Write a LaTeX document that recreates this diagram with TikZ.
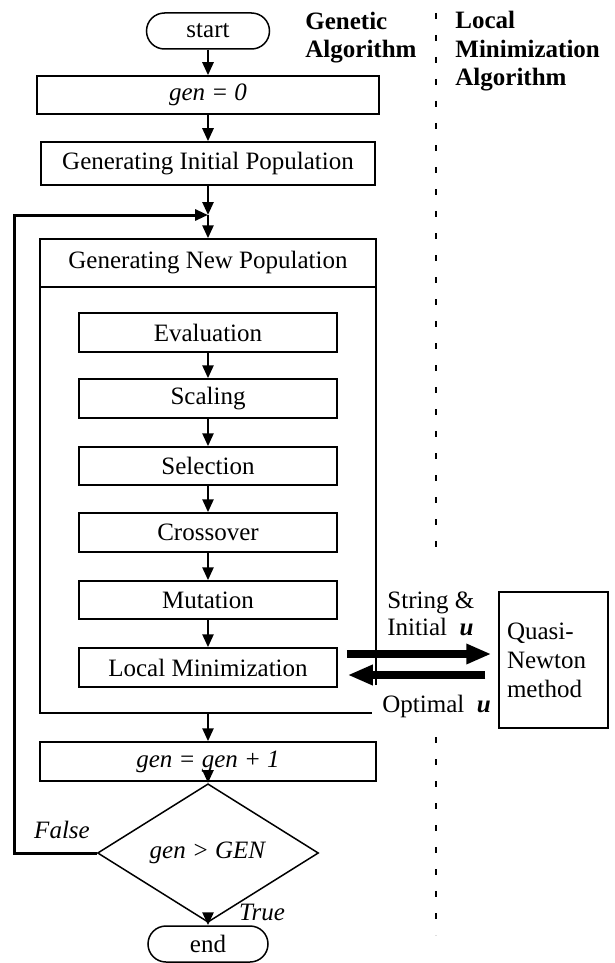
\documentclass[tikz,border=0pt]{standalone}
\usepackage{fontspec}
\setmainfont{Liberation Serif}
\usetikzlibrary{shapes.geometric,arrows.meta}
\begin{document}
\begin{tikzpicture}[x=0.5pt,y=-0.5pt,
  every node/.style={font=\fontsize{12.5}{14}\selectfont},
  box/.style={draw,line width=0.75pt,inner sep=0pt,minimum height=19.5pt},
  term/.style={box,rounded corners=9pt,minimum height=18pt},
  conn/.style={line width=1.3pt,-{Triangle[length=6.5pt,width=5.5pt]}},
  loopline/.style={line width=1.5pt,-{Triangle[length=6.5pt,width=5.5pt]}},
  fat/.style={line width=3.6pt,-{Triangle[length=12.5pt,width=9.5pt]}},
  lbl/.style={inner sep=0pt,align=left},
  sep/.style={line width=0.75pt,dash pattern=on 3pt off 8pt},
]
\useasboundingbox (0,0) rectangle (615,963);

% main column
\node[term,minimum width=61.5pt] (start) at (208,31) {start};
\node[box,minimum width=171pt,minimum height=19pt] (g0) at (208,95) {\textit{gen = 0}};
\node[box,minimum width=167pt,minimum height=21.5pt] (gip) at (208,163.5) {Generating Initial Population};
\coordinate (M) at (208,215);
\node[box,minimum width=168pt,minimum height=237pt] (outer) at (208,476) {};
\node[box,minimum width=168pt,minimum height=24pt,anchor=north] (title) at (outer.north) {Generating New Population};
\node[box,minimum width=129pt] (ev) at (208,332.5) {Evaluation};
\node[box,minimum width=129pt] (sc) at (208,398.5) {Scaling};
\node[box,minimum width=129pt,minimum height=19pt] (se) at (208,466) {Selection};
\node[box,minimum width=129pt] (cr) at (208,532.5) {Crossover};
\node[box,minimum width=129pt,minimum height=19pt] (mu) at (208,600) {Mutation};
\node[box,minimum width=129pt] (lm) at (208,667.5) {Local Minimization};
\node[box,minimum width=168pt] (g1) at (208,761.5) {\textit{gen = gen + 1}};
\node[diamond,draw,line width=0.75pt,inner sep=0pt,minimum width=110.5pt,minimum height=45pt] (dec) at (208,853) {\textit{gen > GEN}};
\node[term,minimum width=60pt] (end) at (208,944) {end};
\coordinate (lpc) at (14,215);

% connectors
\draw[conn] (start) -- (g0);
\draw[conn] (g0) -- (gip);
\draw[conn] (gip) -- (M);
\draw[conn] (M) -- (title);
\draw[conn] (ev) -- (sc);
\draw[conn] (sc) -- (se);
\draw[conn] (se) -- (cr);
\draw[conn] (cr) -- (mu);
\draw[conn] (mu) -- (lm);
\draw[conn] (outer) -- (g1);
\draw[conn] (g1) -- (dec);
\draw[conn] (dec) -- (end);
\draw[loopline] (dec.west) -| (lpc) -- (M);

\node[font=\itshape\fontsize{12.5}{14}\selectfont] (fl) at (62,830) {False};
\node[font=\itshape\fontsize{12.5}{14}\selectfont] (tr) at (262,912) {True};

% headings and separator
\node[lbl,anchor=west,font=\bfseries\fontsize{12.5}{14}\selectfont] (ga) at (305,38) {Genetic\\Algorithm};
\node[lbl,anchor=west,font=\bfseries\fontsize{12.5}{14.25}\selectfont] (lma) at (455,51.5) {Local\\Minimization\\Algorithm};
\draw[sep] (436,13) -- (436,552);
\draw[sep] (436,737) -- (436,935);

% local minimization exchange
\node[lbl,anchor=west,font=\fontsize{12.5}{13.5}\selectfont] (si) at (387,613.5) {String \&\\Initial~~\textbf{\textit{u}}};
\node[anchor=west,fill=white,inner sep=5pt] (opt) at (372,706) {Optimal~~\textbf{\textit{u}}};
\node[draw,line width=0.75pt,inner xsep=4pt,inner ysep=0pt,text width=46.5pt,align=left,minimum height=68pt,font=\fontsize{12.5}{14.5}\selectfont] (qn) at (553.5,660) {Quasi-\\Newton\\method};
\draw[fat] ([xshift=4.5pt,yshift=6.75pt]lm.east) -- ([xshift=-3.5pt,yshift=3pt]qn.west);
\draw[fat] ([xshift=-6.5pt,yshift=-7.5pt]qn.west) -- ([xshift=5pt,yshift=-3.75pt]lm.east);
\end{tikzpicture}
\end{document}
